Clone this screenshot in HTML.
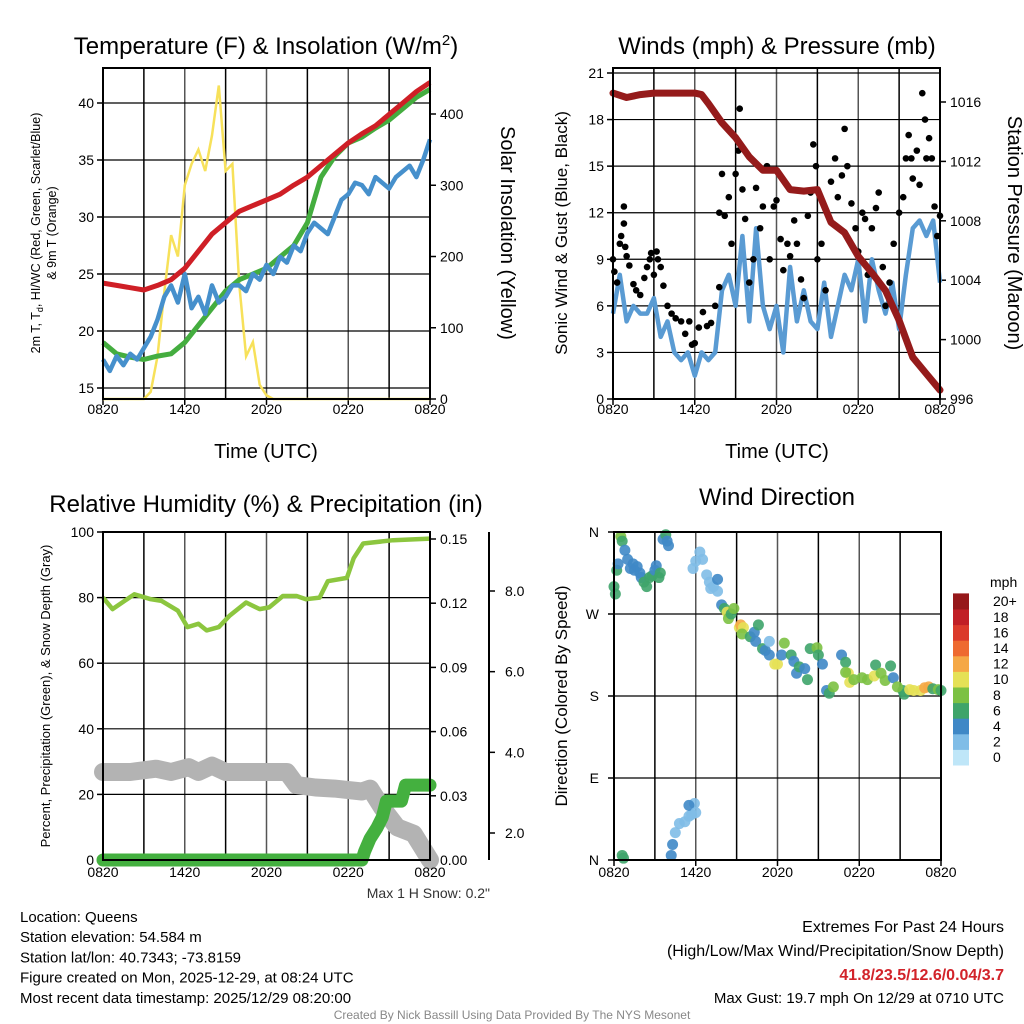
<!DOCTYPE html>
<html><head><meta charset="utf-8"><style>
body{margin:0;background:#fff}
svg{display:block;font-family:"Liberation Sans",sans-serif}
</style></head><body>
<svg id="c" width="1024" height="1024" viewBox="0 0 1024 1024">
<g id="root"></g>
</svg>
<script>
// ---------- DATA ----------
const hourTicks = ["0820","1420","2020","0220","0820"];
const halfHours = [];for(let i=0;i<=48;i++)halfHours.push(i/2);
const hours = [];for(let i=0;i<=24;i++)hours.push(i);
const tempRed = [24.2,24,23.8,23.6,24,24.5,25.5,27,28.5,29.5,30.5,31,31.5,32,32.8,33.5,34.5,35.5,36.5,37.3,38,39,40,41,41.8];
const tempGreen = [19,18,17.7,17.5,17.8,18,19,20.5,22,23.5,24.5,25,25.5,26.5,27.5,29.5,33.5,35.3,36.5,37,37.8,38.5,39.5,40.5,41.2];
const tempBlue = [17.5,16.5,17.8,17,18,17.5,18.5,19.5,21,23,24,22.5,25,22,23,21.5,24,22.5,23,24,24,23.5,25,24.5,25.8,25,26.5,26,27.5,27,28.6,29.5,29,28.5,30,31.5,32,33,32.8,32,33.5,33,32.5,33.5,34,34.5,33.5,35,36.8];
const insolation = [0,0,0,0,0,0,0,10,60,150,230,200,300,330,350,320,370,440,320,330,160,60,80,20,5,0,0,0,0,0,0,0,0,0,0,0,0,0,0,0,0,0,0,0,0,0,0,0,0];
const windSpeed = [5.5,8,5,6,5.5,5.5,6.5,4,5,3,2.5,3,1.5,3,2.5,3,7,8,6,10.5,5,11,6,4.5,6,3,8.5,5,7,5,4.5,7.5,4,6,8,7,9,5,9,7,5.5,7.5,4.5,8,11,11.5,10.5,11.5,7.5];
const gustHours = [0,0.1,0.3,0.5,0.6,0.8,0.8,0.9,1,1.2,1.5,1.7,2,2.3,2.5,2.7,2.8,3,3.2,3.3,3.5,3.7,4,4.3,4.6,5,5.3,5.6,5.8,6,6.3,6.6,6.9,7.2,7.5,7.8,7.8,8,8.2,8.5,8.7,9,9.2,9.3,9.5,9.7,10,10.3,10.5,10.8,11,11.3,11.5,11.8,12,12.3,12.5,12.8,13,13.3,13.5,13.8,14,14.3,14.5,14.7,14.9,15,15.3,15.6,16,16.3,16.5,16.8,17,17.2,17.5,17.8,18,18.3,18.5,18.7,19,19.3,19.5,19.8,20,20.3,20.6,21,21.3,21.5,21.7,21.9,22,22.3,22.5,22.7,22.9,23,23.2,23.4,23.6,23.8,24];
const gustSpeed = [9,8.2,7.5,10,10.5,11.3,12.4,9.8,9.2,8.6,7.4,7,6.7,7.8,8.5,9,9.4,8,9.5,9,8.5,7.3,6,5.5,5.2,5,4.2,5,3.5,3.6,4.6,5.6,4.7,4.9,6,7.2,12,14.5,11.8,13,10,14.5,16,18.7,13.5,11.6,7.5,9,13.6,11,12.4,15,9,12.4,12.8,10.3,8.3,10,9.2,11.5,10,7.7,6.5,11.8,13.3,16.4,15,9,10,7,14,15.5,13,14.4,17.4,15,12.6,11,9.5,12,11.6,8,11,12.3,13.3,8.5,6,7.5,10,12,13,15.5,17,15.5,14.2,16,13.8,19.7,18,15.5,16.8,15.5,12.4,10.5,11.8];
const pressHours = [0,1,2,3,4,5,6,6.5,7,8,9,10,11,12,13,14,15,16,17,18,19,20,21,22,23,24];
const pressure = [1016.6,1016.3,1016.5,1016.6,1016.6,1016.6,1016.6,1016.5,1015.9,1014.6,1013.6,1012.3,1011.4,1011.4,1010.1,1010,1010.1,1007.9,1007.2,1005.6,1004.5,1003.3,1001.3,998.8,997.7,996.6];
const rhHours = [0,0.7,2.3,3.5,4.3,5.5,6.2,7,7.6,8.5,9.3,10.5,11.5,12.2,13.2,14.2,14.9,15.9,16.5,17.9,18.4,19.1,21.3,24];
const humidity = [80,76.5,81,79.5,79,76,71,72,70,71,74.5,78.5,76.5,77,80.5,80.5,79.5,80,85,86,92,96.5,97.5,98];
const precipHours = [0,19,19.2,19.6,20.1,20.5,20.8,21.9,22.2,24];
const precip = [0,0,0.004,0.01,0.015,0.02,0.0275,0.0275,0.035,0.035];
const snowHours = [0,2,3.9,5,6.3,7,8,9,13.5,14.2,15.6,17,19,19.6,20.5,21.6,22.8,24];
const snowDepth = [3.7,3.7,3.84,3.7,3.9,3.7,3.97,3.7,3.7,3.15,3.05,3.0,2.88,3.0,2.19,1.37,1.1,0];
const dirHours = [0,0.1,0.2,0.3,0.5,0.6,0.6,0.7,0.8,1,1.2,1.4,1.5,1.7,1.9,2,2.2,2.4,2.6,2.8,3,3.1,3.3,3.4,3.6,3.8,3.9,4,4.2,4.3,4.5,4.8,5.2,5.5,5.7,5.9,5.5,6,5.8,6,6.3,6.5,6.8,7,7.1,7.3,7.6,7.6,7.9,8.1,8.3,8.4,8.6,8.8,9.2,9.3,9.5,9.4,10,10.3,10.6,10.4,10.9,11.1,11.4,11.4,11.8,12,12.5,12.3,13,13.2,13.4,13.6,14,14.2,14.4,14.9,15,15.3,15.6,15.8,16.1,16.7,17,17.2,17.3,17.6,18.2,18.6,19.1,19.2,19.6,19.9,20.3,20.5,21.2,21.3,21.7,22,22.5,22.8,23.1,23.4,23.8,24,17,20.8];
const dirDeg = [300,292,318,325,355,350,5,2,340,330,320,325,318,322,315,310,305,300,310,312,318,323,310,315,352,357,350,345,5,17,30,40,42,48,50,62,60,52,320,328,338,330,313,305,298,300,308,295,280,276,272,265,270,276,255,258,255,248,245,250,258,240,232,230,225,240,215,215,238,225,225,218,205,212,210,198,232,233,225,215,186,183,190,225,217,205,195,198,200,198,202,214,205,197,213,200,186,182,187,186,186,189,190,188,187,186,206,190];
const dirSpeed = [6,6,6,4,8,6,6,6,4,4,4,4,4,4,4,4,6,6,6,6,4,4,6,6,4,6,4,4,4,4,2,2,2,2,2,2,4,1,2,1,2,2,2,2,2,2,4,2,4,6,10,8,6,8,10,12,10,8,6,4,6,4,6,4,4,2,10,10,8,4,6,4,4,6,4,6,6,8,6,4,4,6,8,4,6,10,10,8,8,8,10,6,8,8,6,4,6,6,10,10,10,12,12,6,8,6,8,8];
const legendLabels = ["0","2","4","6","8","10","12","14","16","18","20+"];
const legendColors = ["#bfe6f8","#80bde7","#3f88c6","#3ea46a","#7cc143","#e5e156","#f5a846","#ee6a30","#db3a2b","#c11f26","#96181a"];

// ---------- HELPERS ----------
const NS="http://www.w3.org/2000/svg";
const root=document.getElementById('root');
function mk(tag,attrs,parent){const e=document.createElementNS(NS,tag);for(const k in attrs)e.setAttribute(k,attrs[k]);(parent||root).appendChild(e);return e;}
function txt(s,x,y,size,anchor,parent,extra){const e=mk('text',Object.assign({x:x,y:y,'font-size':size,'text-anchor':anchor||'middle',fill:'#000'},extra||{}),parent);e.textContent=s;return e;}
function lin(x0,x1,d0,d1){return v=>x0+(v-d0)*(x1-x0)/(d1-d0);}
function pts(xs,ys,fx,fy){return xs.map((h,i)=>fx(h).toFixed(1)+','+fy(ys[i]).toFixed(1)).join(' ');}

function frame(L,R,T,B,name){
  const g=mk('g',{});
  
  
  const fx=lin(L,R,0,24);
  for(let h=3;h<24;h+=3){const x=fx(h);mk('line',{x1:x,x2:x,y1:T,y2:B,stroke:(h%6==0)?'#555':'#000','stroke-width':1.5},g);}
  hourTicks.forEach((t,i)=>{const x=fx(i*6);mk('line',{x1:x,x2:x,y1:B,y2:B+6,stroke:'#000','stroke-width':1.5},g);});
  return {g,fx};
}
function xLabels(L,R,y,g){const fx=lin(L,R,0,24);hourTicks.forEach((t,i)=>{const e=txt(t,fx(i*6),y,14,'middle',g);});}
function box(L,R,T,B,g){mk('rect',{x:L,y:T,width:R-L,height:B-T,fill:'none',stroke:'#000','stroke-width':2},g);}

// ---------- PANEL 1: temperature ----------
(function(){
 const L=103,R=430,T=68,B=399;
 const {g,fx}=frame(L,R,T,B,'temperature-panel');
 const fy=lin(388,103,15,40), fs=lin(399,114,0,400);
 for(let v=15;v<=40;v+=5){const y=fy(v);mk('line',{x1:L,x2:R,y1:y,y2:y,stroke:'#000','stroke-width':1.2},g);mk('line',{x1:L-6,x2:L,y1:y,y2:y,stroke:'#000','stroke-width':1.5},g);const e=txt(String(v),L-9,y+5,14,'end',g);}
 for(let v=0;v<=400;v+=100){const y=fs(v);mk('line',{x1:R,x2:R+6,y1:y,y2:y,stroke:'#000','stroke-width':1.5},g);const e=txt(String(v),R+10,y+5,14,'start',g);}
 const s1=mk('polyline',{points:pts(halfHours,insolation,fx,fs),fill:'none',stroke:'#f7e15a','stroke-width':2.5},g);
 const s2=mk('polyline',{points:pts(hours,tempGreen,fx,fy),fill:'none',stroke:'#44ad3f','stroke-width':5,'stroke-linejoin':'round'},g);
 const s3=mk('polyline',{points:pts(halfHours,tempBlue,fx,fy),fill:'none',stroke:'#4690cc','stroke-width':4.5,'stroke-linejoin':'round'},g);
 const s4=mk('polyline',{points:pts(hours,tempRed,fx,fy),fill:'none',stroke:'#cf1f26','stroke-width':5,'stroke-linejoin':'round'},g);
 box(L,R,T,B,g);xLabels(L,R,414,g);
 const t=mk('text',{x:266,y:54,'font-size':24,'text-anchor':'middle'},g);t.innerHTML='Temperature (F) &amp; Insolation (W/m<tspan dy="-9" font-size="15">2</tspan><tspan dy="9">)</tspan>';
 const a=txt('Time (UTC)',266,458,20,'middle',g);
 const y1=mk('text',{transform:'translate(40,233) rotate(-90)','font-size':12.5,'text-anchor':'middle'},g);y1.innerHTML='2m T, T<tspan dy="3" font-size="9">d</tspan><tspan dy="-3">, HI/WC (Red, Green, Scarlet/Blue)</tspan>';
 const y1b=txt('& 9m T (Orange)',0,0,12.5,'middle',g,{transform:'translate(56,233) rotate(-90)'});
 const y2=txt('Solar Insolation (Yellow)',0,0,20,'middle',g,{transform:'translate(501,233) rotate(90)'});
})();

// ---------- PANEL 2: wind ----------
(function(){
 const L=613,R=940,T=68,B=399;
 const {g,fx}=frame(L,R,T,B,'wind-panel');
 const fy=lin(399,73,0,21), fp=lin(399,102,996,1016);
 for(let v=0;v<=21;v+=3){const y=fy(v);mk('line',{x1:L,x2:R,y1:y,y2:y,stroke:'#000','stroke-width':1.2},g);mk('line',{x1:L-6,x2:L,y1:y,y2:y,stroke:'#000','stroke-width':1.5},g);const e=txt(String(v),L-9,y+5,14,'end',g);}
 for(let v=996;v<=1016;v+=4){const y=fp(v);mk('line',{x1:R,x2:R+6,y1:y,y2:y,stroke:'#000','stroke-width':1.5},g);const e=txt(String(v),R+10,y+5,14,'start',g);}
 const s1=mk('polyline',{points:pts(halfHours,windSpeed,fx,fy),fill:'none',stroke:'#5a9bd3','stroke-width':4.5,'stroke-linejoin':'round'},g);
 gustHours.forEach((h,i)=>{const c=mk('circle',{cx:fx(h),cy:fy(gustSpeed[i]),r:3.3,fill:'#000'},g);});
 const s2=mk('polyline',{points:pts(pressHours,pressure,fx,fp),fill:'none',stroke:'#951b1b','stroke-width':7,'stroke-linejoin':'round','stroke-linecap':'round'},g);
 box(L,R,T,B,g);xLabels(L,R,414,g);
 const t=txt('Winds (mph) & Pressure (mb)',777,54,24,'middle',g);
 const a=txt('Time (UTC)',777,458,20,'middle',g);
 const y1=txt('Sonic Wind & Gust (Blue, Black)',0,0,17,'middle',g,{transform:'translate(567,233) rotate(-90)'});
 const y2=txt('Station Pressure (Maroon)',0,0,20,'middle',g,{transform:'translate(1008,233) rotate(90)'});
})();

// ---------- PANEL 3: humidity ----------
(function(){
 const L=103,R=430,T=532,B=860;
 const {g,fx}=frame(L,R,T,B,'humidity-panel');
 const fy=lin(860,532,0,100), fpr=lin(860,539,0,0.15), fsn=lin(860,772,0,3.7), fst=lin(833,591,2,8);
 for(let v=0;v<=100;v+=20){const y=fy(v);mk('line',{x1:L,x2:R,y1:y,y2:y,stroke:'#000','stroke-width':1.2},g);mk('line',{x1:L-6,x2:L,y1:y,y2:y,stroke:'#000','stroke-width':1.5},g);const e=txt(String(v),L-9,y+5,14,'end',g);}
 [0,0.03,0.06,0.09,0.12,0.15].forEach(v=>{const y=fpr(v);mk('line',{x1:R,x2:R+6,y1:y,y2:y,stroke:'#000','stroke-width':1.5},g);const e=txt(v.toFixed(2),R+10,y+5,14,'start',g);});
 mk('line',{x1:489,x2:489,y1:532,y2:860,stroke:'#000','stroke-width':2},g);
 [2,4,6,8].forEach(v=>{const y=fst(v);mk('line',{x1:489,x2:495,y1:y,y2:y,stroke:'#000','stroke-width':1.5},g);const e=txt(v.toFixed(1),505,y+5,14,'start',g);});
 const s0=mk('polyline',{points:pts(snowHours,snowDepth,fx,fsn),fill:'none',stroke:'#b3b3b3','stroke-width':18,'stroke-linejoin':'round','stroke-linecap':'round'},g);
 const s1=mk('polyline',{points:pts(precipHours,precip,fx,fpr),fill:'none',stroke:'#44b03f','stroke-width':13,'stroke-linejoin':'round','stroke-linecap':'round'},g);
 const s2=mk('polyline',{points:pts(rhHours,humidity,fx,fy),fill:'none',stroke:'#8cc63f','stroke-width':4.5,'stroke-linejoin':'round'},g);
 box(L,R,T,B,g);xLabels(L,R,877,g);
 const t=txt('Relative Humidity (%) & Precipitation (in)',266,512,24,'middle',g);
 const y1=txt('Percent, Precipitation (Green), & Snow Depth (Gray)',0,0,13,'middle',g,{transform:'translate(50,696) rotate(-90)'});
 const m=txt('Max 1 H Snow: 0.2"',490,898,14,'end',g,{fill:'#333'});
})();

// ---------- PANEL 4: wind direction ----------
(function(){
 const L=614,R=941,T=532,B=860;
 const {g,fx}=frame(L,R,T,B,'wind-direction-panel');
 const fy=lin(860,532,0,360);
 const dl=['N','E','S','W','N'];
 dl.forEach((s,i)=>{const y=fy(i*90);mk('line',{x1:L,x2:R,y1:y,y2:y,stroke:'#000','stroke-width':1.2},g);mk('line',{x1:L-6,x2:L,y1:y,y2:y,stroke:'#000','stroke-width':1.5},g);const e=txt(s,L-15,y+5,14,'end',g);});
 const colorFor=s=>legendColors[Math.min(10,Math.max(0,Math.round(s/2)))];
 dirHours.forEach((h,i)=>{const c=mk('circle',{cx:fx(h),cy:fy(dirDeg[i]),r:5.5,fill:colorFor(dirSpeed[i]),opacity:0.9},g);});
 box(L,R,T,B,g);xLabels(L,R,877,g);
 const t=txt('Wind Direction',777,505,24,'middle',g);
 const y1=txt('Direction (Colored By Speed)',0,0,17,'middle',g,{transform:'translate(567,696) rotate(-90)'});
 const lg=mk('g',{},g);
 const u=txt('mph',990,587,14,'start',lg);
 const bh=15.6;
 legendLabels.forEach((s,i)=>{const y=765-(i+1)*bh;const r=mk('rect',{x:953,y:y,width:16,height:bh+0.5,fill:legendColors[i]},lg);const e=txt(s,993,y+bh/2+5,14,'start',lg);});
})();

// ---------- FOOTER ----------
(function(){
 const g=mk('g',{});
 const left=['Location: Queens','Station elevation: 54.584 m','Station lat/lon: 40.7343; -73.8159','Figure created on Mon, 2025-12-29, at 08:24 UTC','Most recent data timestamp: 2025/12/29 08:20:00'];
 left.forEach((s,i)=>{const e=txt(s,20,922+i*20.2,15,'start',g);});
 const r1=txt('Extremes For Past 24 Hours',1004,932,16,'end',g);
 const r2=txt('(High/Low/Max Wind/Precipitation/Snow Depth)',1004,956,16,'end',g);
 const r3=txt('41.8/23.5/12.6/0.04/3.7',1004,980,16,'end',g,{fill:'#d2232a','font-weight':'bold'});
 const r4=txt('Max Gust: 19.7 mph On 12/29 at 0710 UTC',1004,1003,15,'end',g);
 const c=txt('Created By Nick Bassill Using Data Provided By The NYS Mesonet',512,1019,12,'middle',g,{fill:'#888'});
})();
</script>
</body></html>
